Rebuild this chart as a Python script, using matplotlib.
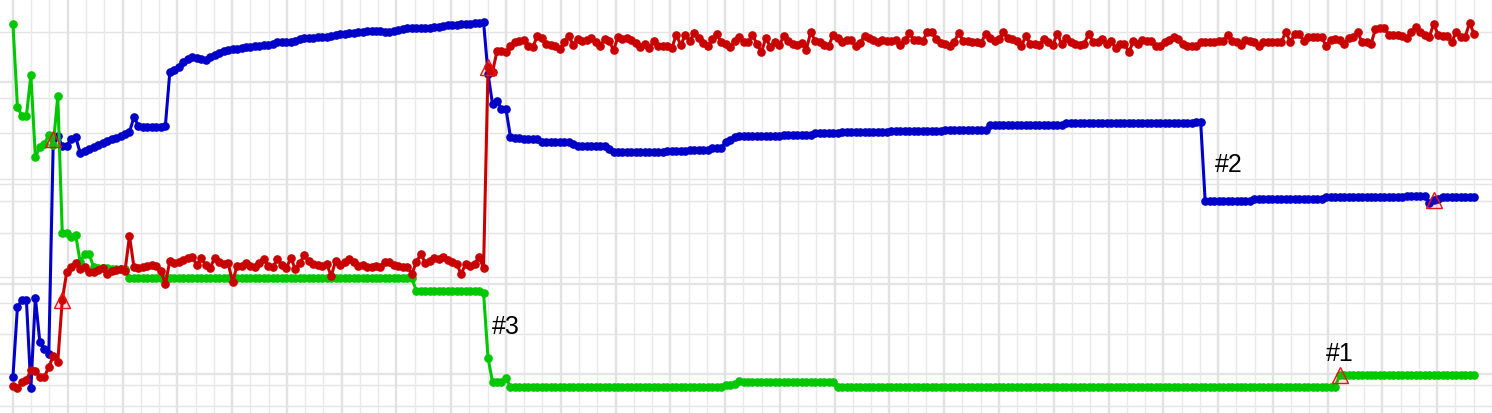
import numpy as np
import matplotlib
matplotlib.use("Agg")
import matplotlib.pyplot as plt

# ─── Dati (indice campione -> valore) ─────────────────────────────────────────

blu = [
    36, 106, 113, 113, 25, 115, 71, 64, 59, 274, 277, 267, 267, 274, 276, 260, 262, 264, 266, 268,
    270, 272, 274, 275, 277, 279, 281, 296, 287, 286, 286, 286, 286, 286, 287, 341, 343, 346, 351, 354,
    356, 355, 354, 353, 356, 358, 360, 362, 363, 364, 364, 365, 366, 366, 367, 367, 368, 368, 369, 371,
    371, 371, 371, 372, 374, 375, 375, 375, 376, 376, 376, 377, 378, 379, 379, 380, 380, 381, 381, 382,
    382, 382, 382, 381, 381, 382, 383, 384, 385, 385, 385, 385, 385, 385, 386, 386, 387, 388, 388, 388,
    389, 389, 389, 390, 390, 391, 339, 309, 312, 304, 304, 276, 275, 275, 274, 274, 274, 274, 271, 271,
    271, 271, 271, 271, 271, 269, 267, 267, 267, 267, 267, 267, 267, 264, 261, 261, 261, 261, 261, 261,
    261, 261, 261, 261, 261, 261, 262, 262, 262, 262, 262, 263, 263, 263, 263, 263, 265, 265, 265, 271,
    273, 276, 277, 277, 277, 277, 277, 277, 277, 277, 277, 277, 278, 278, 278, 278, 278, 278, 278, 280,
    280, 280, 280, 280, 280, 281, 281, 281, 281, 281, 281, 281, 281, 281, 281, 281, 282, 282, 282, 282,
    282, 282, 282, 282, 282, 282, 282, 282, 283, 283, 283, 283, 283, 283, 283, 283, 283, 283, 288, 288,
    288, 288, 288, 288, 288, 288, 288, 288, 288, 288, 288, 288, 288, 288, 288, 290, 290, 290, 290, 290,
    290, 290, 290, 290, 290, 290, 290, 290, 290, 290, 290, 290, 290, 290, 290, 290, 290, 290, 290, 290,
    290, 290, 290, 290, 291, 291, 212, 212, 212, 212, 212, 212, 212, 212, 212, 212, 212, 214, 214, 214,
    214, 214, 214, 214, 214, 214, 214, 214, 214, 214, 214, 214, 214, 216, 216, 216, 216, 216, 216, 216,
    216, 216, 216, 216, 216, 216, 216, 216, 216, 216, 216, 217, 217, 217, 217, 217, 210, 213, 214, 216,
    216, 216, 216, 216, 216, 216, 216,
]

verde = [
    389, 306, 297, 297, 338, 256, 266, 269, 278, 268, 317, 180, 180, 176, 178, 151, 159, 159, 146, 145,
    145, 145, 144, 144, 144, 144, 135, 135, 135, 135, 135, 135, 135, 135, 135, 135, 135, 135, 135, 135,
    135, 135, 135, 135, 135, 135, 135, 135, 135, 135, 135, 135, 135, 135, 135, 135, 135, 135, 135, 135,
    135, 135, 135, 135, 135, 135, 135, 135, 135, 135, 135, 135, 135, 135, 135, 135, 135, 135, 135, 135,
    135, 135, 135, 135, 135, 135, 135, 135, 135, 135, 122, 122, 122, 122, 122, 122, 122, 122, 122, 122,
    122, 122, 122, 122, 122, 120, 55, 31, 31, 31, 35, 26, 26, 26, 26, 26, 26, 26, 26, 26,
    26, 26, 26, 26, 26, 26, 26, 26, 26, 26, 26, 26, 26, 26, 26, 26, 26, 26, 26, 26,
    26, 26, 26, 26, 26, 26, 26, 26, 26, 26, 26, 26, 26, 26, 26, 26, 26, 26, 26, 28,
    28, 29, 32, 31, 31, 31, 31, 31, 31, 31, 31, 31, 31, 31, 31, 31, 31, 31, 31, 31,
    31, 31, 31, 31, 26, 26, 26, 26, 26, 26, 26, 26, 26, 26, 26, 26, 26, 26, 26, 26,
    26, 26, 26, 26, 26, 26, 26, 26, 26, 26, 26, 26, 26, 26, 26, 26, 26, 26, 26, 26,
    26, 26, 26, 26, 26, 26, 26, 26, 26, 26, 26, 26, 26, 26, 26, 26, 26, 26, 26, 26,
    26, 26, 26, 26, 26, 26, 26, 26, 26, 26, 26, 26, 26, 26, 26, 26, 26, 26, 26, 26,
    26, 26, 26, 26, 26, 26, 26, 26, 26, 26, 26, 26, 26, 26, 26, 26, 26, 26, 26, 26,
    26, 26, 26, 26, 26, 26, 26, 26, 26, 26, 26, 26, 26, 26, 26, 26, 38, 38, 38, 38,
    38, 38, 38, 38, 38, 38, 38, 38, 38, 38, 38, 38, 38, 38, 38, 38, 38, 38, 38, 38,
    38, 38, 38, 38, 38, 38, 38,
]

rosso = [
    27, 25, 31, 33, 43, 42, 36, 36, 46, 57, 51, 113, 141, 146, 150, 144, 146, 141, 141, 143,
    145, 139, 142, 143, 144, 142, 177, 146, 145, 146, 147, 148, 147, 142, 129, 152, 150, 151, 153, 155,
    156, 148, 155, 148, 145, 155, 151, 149, 150, 131, 147, 147, 150, 147, 146, 150, 154, 147, 146, 154,
    148, 145, 155, 144, 150, 158, 152, 149, 148, 147, 149, 137, 152, 148, 151, 154, 151, 147, 148, 146,
    146, 147, 146, 151, 151, 148, 147, 146, 146, 139, 151, 159, 150, 152, 155, 154, 156, 153, 151, 149,
    139, 149, 147, 149, 156, 145, 346, 341, 362, 362, 361, 367, 371, 372, 373, 367, 366, 377, 375, 369,
    368, 367, 364, 371, 377, 368, 374, 372, 373, 375, 371, 367, 374, 372, 363, 376, 374, 375, 373, 370,
    366, 369, 365, 372, 367, 367, 367, 365, 378, 368, 378, 372, 380, 375, 370, 367, 374, 379, 371, 369,
    366, 372, 376, 371, 371, 378, 369, 361, 375, 366, 371, 368, 377, 372, 369, 368, 370, 363, 381, 372,
    371, 368, 367, 378, 375, 371, 373, 373, 367, 370, 377, 375, 373, 371, 373, 372, 372, 373, 368, 373,
    380, 373, 373, 372, 381, 381, 374, 370, 369, 367, 371, 380, 372, 372, 371, 371, 370, 379, 375, 372,
    374, 381, 375, 374, 372, 367, 377, 369, 369, 368, 374, 371, 368, 379, 369, 375, 371, 369, 368, 369,
    379, 371, 371, 374, 369, 372, 365, 369, 369, 361, 372, 369, 373, 372, 372, 367, 367, 371, 373, 376,
    374, 369, 367, 367, 367, 371, 371, 371, 371, 372, 372, 378, 372, 371, 368, 373, 372, 371, 367, 371,
    371, 371, 371, 371, 381, 371, 379, 379, 372, 376, 376, 376, 376, 367, 373, 374, 373, 369, 375, 376,
    381, 371, 371, 369, 384, 385, 385, 378, 378, 378, 377, 375, 381, 386, 381, 378, 376, 389, 378, 377,
    377, 371, 381, 376, 376, 390, 379,
]

# eventi (serie, indice campione) segnati col triangolo
eventi = [("rosso", 11), ("blu", 9), ("rosso", 106), ("verde", 296), ("blu", 317)]

# etichette: (testo, serie, indice, offset in punti)
etichette = [("#1", "verde", 296, (0, 16)),
             ("#2", "blu", 266, (17, 27)),
             ("#3", "verde", 106, (13, 23))]

# livelli della griglia orizzontale (tre scale sovrapposte)
griglia_y = [381, 331, 280, 229, 180, 129, 79, 28, 315, 212, 110, 7, 234, 136, 39]
griglia_y_forte = [331, 129, 39]

# ─── Figura ───────────────────────────────────────────────────────────────────

serie = {"blu": np.array(blu), "verde": np.array(verde), "rosso": np.array(rosso)}
colori = {"blu": "#0000c8", "verde": "#00c800", "rosso": "#c80000"}

fig = plt.figure(figsize=(14.92, 4.14), dpi=100)
ax = fig.add_axes([0, 0, 1, 1])
ax.set_xlim(-2.89, 328.67)
ax.set_ylim(0, 414)
for s in ax.spines.values():
    s.set_visible(False)
ax.tick_params(which="both", length=0, labelbottom=False, labelleft=False)

passo = 55 / 4.5
ax.set_xticks(np.arange(0, 330, passo))
ax.set_xticks(np.arange(0, 330, passo / 3), minor=True)
ax.grid(axis="x", which="major", color="#e2e2e2", lw=1.7)
ax.grid(axis="x", which="minor", color="#e9e9e9", lw=1.0)
for g in griglia_y:
    ax.axhline(g, color="#e4e4e4", lw=1.7 if g in griglia_y_forte else 1.0, zorder=0)
ax.set_axisbelow(True)

for nome in ["blu", "verde", "rosso"]:
    y = serie[nome]
    ax.plot(np.arange(len(y)), y, color=colori[nome], lw=2.2, marker="o", ms=5.2,
            solid_joinstyle="round")

for nome, i in eventi:
    ax.plot(i, serie[nome][i], marker="^", ms=11, mfc=(1, 0.2, 0.2, 0.12),
            mec="#ee1111", mew=1.0, ls="none", zorder=5)

for testo, nome, i, off in etichette:
    ax.annotate(testo, xy=(i, serie[nome][i]), xytext=off, textcoords="offset points",
                ha="center", va="center", fontsize=18, family="Liberation Sans",
                color="black")

fig.savefig("out.png", dpi=100)
